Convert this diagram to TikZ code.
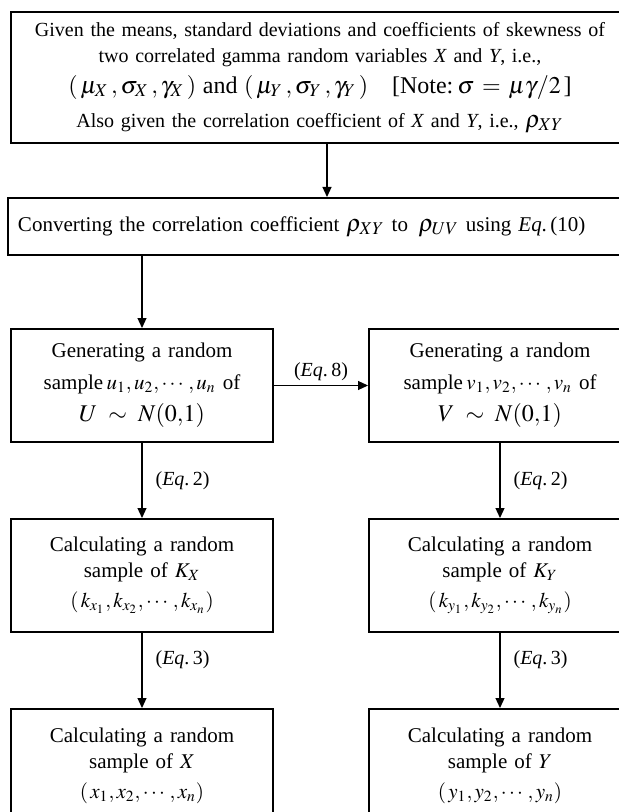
\documentclass[tikz,border=0pt]{standalone}
\usepackage{amsmath}
\usepackage{mathptmx}
\usepackage[no-math]{fontspec}
\setmainfont{Liberation Serif}
\usetikzlibrary{arrows.meta, positioning}

\begin{document}
\begin{tikzpicture}[x=0.5pt, y=-0.5pt, node distance=37.5pt and 47pt,
    flowbox/.style={draw, line width=1pt, rectangle, minimum width=131pt, minimum height=56.5pt, text width=125pt, align=center, inner sep=0pt, font=\fontsize{10.5}{13}\selectfont},
    flowline/.style={-{Triangle[length=5pt, width=4.5pt]}, line width=0.6pt},
    eqlabel/.style={inner sep=2pt, font=\fontsize{10}{12}\selectfont}]
    \useasboundingbox (0,0) rectangle (619,812);
    \clip (0,0) rectangle (619,812);

    \node (given) [draw, line width=1pt, minimum width=309pt, minimum height=65.5pt, text width=300pt, align=center, inner sep=0pt, font=\fontsize{10}{12.5}\selectfont] at (320,77.5) {Given the means, standard deviations and coefficients of skewness of\\[0.5pt]
        two correlated gamma random variables \textit{X} and \textit{Y}, i.e.,\\[3pt]
        {\large $(\,\mu_X\,,\sigma_X\,,\gamma_X\,)$ and $(\,\mu_Y\,,\sigma_Y\,,\gamma_Y\,)$\quad[Note:\,$\sigma=\mu\gamma/2\,$]}\\[4.5pt]
        Also given the correlation coefficient of \textit{X} and \textit{Y}, i.e., {\large$\rho_{XY}$}};
    \node (convert) [draw, line width=1pt, minimum width=310.5pt, minimum height=28.5pt, text width=300.5pt, align=left, inner xsep=5pt, inner ysep=0pt, font=\fontsize{10.5}{12.5}\selectfont] at (318.5,226.5) {Converting the correlation coefficient {\large$\rho_{XY}$} to\enspace{\large$\rho_{UV}$} using \textit{Eq}.\,(10)};

    \node (genu) [flowbox] at (142,385.5) {Generating a random\\[3pt] sample\,$u_1,u_2,\cdots,u_n$ of\\[3pt] {\large $U\,\sim\,N(0{,}1)$}};
    \node (genv) [flowbox, right=of genu] {Generating a random\\[3pt] sample\,$v_1,v_2,\cdots,v_n$ of\\[3pt] {\large $V\,\sim\,N(0{,}1)$}};
    \node (calckx) [flowbox, below=of genu] {Calculating a random\\ sample of $K_X$\\[2pt] $(\,k_{x_1},k_{x_2},\cdots,k_{x_n})$};
    \node (calcky) [flowbox, below=of genv] {Calculating a random\\ sample of $K_Y$\\[2pt] $(\,k_{y_1},k_{y_2},\cdots,k_{y_n})$};
    \node (calcx) [flowbox, below=of calckx] {Calculating a random\\ sample of $X$\\[2pt] $(\,x_1,x_2,\cdots,x_n)$};
    \node (calcy) [flowbox, below=of calcky] {Calculating a random\\ sample of $Y$\\[2pt] $(\,y_1,y_2,\cdots,y_n)$};

    \draw [flowline] ([xshift=3.5pt]given.south) -- ([xshift=3.5pt]given.south |- convert.north);
    \draw [flowline] (convert.south -| genu.north) -- (genu.north);
    \draw [flowline] (genu) -- node[above, eqlabel] {(\textit{Eq}.\,8)} (genv);
    \draw [flowline] (genu) -- node[right=4.5pt, eqlabel] {(\textit{Eq}.\,2)} (calckx);
    \draw [flowline] (genv) -- node[right=4.5pt, eqlabel] {(\textit{Eq}.\,2)} (calcky);
    \draw [flowline] (calckx) -- node[right=4.5pt, eqlabel, pos=0.35] {(\textit{Eq}.\,3)} (calcx);
    \draw [flowline] (calcky) -- node[right=4.5pt, eqlabel, pos=0.35] {(\textit{Eq}.\,3)} (calcy);
\end{tikzpicture}
\end{document}
